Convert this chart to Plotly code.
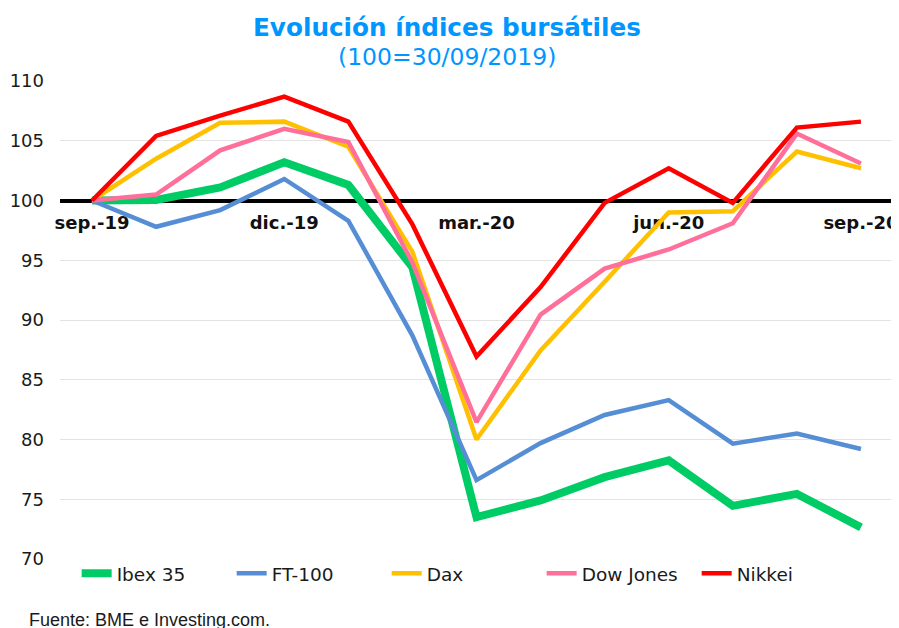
import plotly.graph_objects as go

months = ["sep.-19", "oct.-19", "nov.-19", "dic.-19", "ene.-20", "feb.-20", "mar.-20",
          "abr.-20", "may.-20", "jun.-20", "jul.-20", "ago.-20", "sep.-20"]
tick_months = ["sep.-19", "dic.-19", "mar.-20", "jun.-20", "sep.-20"]

ibex = [100, 100.05, 101.1, 103.2, 101.3, 94.4, 73.5, 74.9, 76.85, 78.25, 74.45, 75.45, 72.65]
ft100 = [100, 97.8, 99.2, 101.8, 98.3, 88.7, 76.6, 79.7, 82.05, 83.3, 79.65, 80.5, 79.2]
dax = [100, 103.5, 106.5, 106.6, 104.5, 95.7, 80.0, 87.45, 93.2, 99.0, 99.1, 104.1, 102.7]
dow = [100, 100.5, 104.2, 106.0, 104.9, 94.8, 81.45, 90.45, 94.3, 95.9, 98.1, 105.6, 103.1]
nikkei = [100, 105.4, 107.1, 108.7, 106.6, 98.0, 86.95, 92.75, 99.8, 102.7, 99.8, 106.1, 106.6]

series = [
    ("Ibex 35", ibex, "#00CC66", 8),
    ("FT-100", ft100, "#558ED5", 4.5),
    ("Dax", dax, "#FFC000", 4.5),
    ("Dow Jones", dow, "#FF6F9A", 4.5),
    ("Nikkei", nikkei, "#FF0000", 4.5),
]

fig = go.Figure()
for name, vals, color, w in series:
    fig.add_trace(go.Scatter(x=months, y=vals, name=name, mode="lines",
                             line=dict(color=color, width=w)))

FONT = "DejaVu Sans"
fig.update_layout(
    width=891, height=620,
    margin=dict(l=52, r=6, t=73, b=69, autoexpand=False),
    plot_bgcolor="white", paper_bgcolor="white",
    font=dict(family=FONT, color="#1a1a1a"),
    showlegend=True,
    legend=dict(orientation="h", x=0.02, xanchor="left", y=-0.031, yanchor="middle",
                font=dict(family=FONT, size=18.5, color="#1a1a1a"),
                bgcolor="rgba(0,0,0,0)", entrywidth=110, entrywidthmode="pixels"),
    xaxis=dict(type="category", range=[-0.5, 12.5], anchor="free", position=0.75,
               showline=True, linecolor="black", linewidth=4, showgrid=False,
               tickvals=tick_months, ticktext=tick_months, ticks="",
               tickfont=dict(family=FONT, size=18, color="#111111", weight="bold"),
               layer="below traces", ticklabelstandoff=5, automargin=False),
    yaxis=dict(range=[70, 110], dtick=5, showgrid=True, gridcolor="#e3e3e3", gridwidth=1,
               zeroline=False, showline=False, ticks="",
               tickfont=dict(family=FONT, size=18, color="#1a1a1a"),
               ticklabelstandoff=15, layer="below traces", automargin=False),
    annotations=[
        dict(text="<b>Evolución índices bursátiles</b>", xref="paper", yref="paper",
             x=0.4646, y=1.111, xanchor="center", yanchor="middle", showarrow=False,
             font=dict(family=FONT, size=24.7, color="#0096FF")),
        dict(text="(100=30/09/2019)", xref="paper", yref="paper",
             x=0.4646, y=1.050, xanchor="center", yanchor="middle", showarrow=False,
             font=dict(family=FONT, size=23.5, color="#0096FF")),
        dict(text="Fuente: BME e Investing.com.", xref="paper", yref="paper",
             x=-0.0396, y=-0.128, xanchor="left", yanchor="middle", showarrow=False,
             font=dict(family="Liberation Sans", size=18, color="#1a1a1a")),
    ],
)

fig.write_html("out.html")
